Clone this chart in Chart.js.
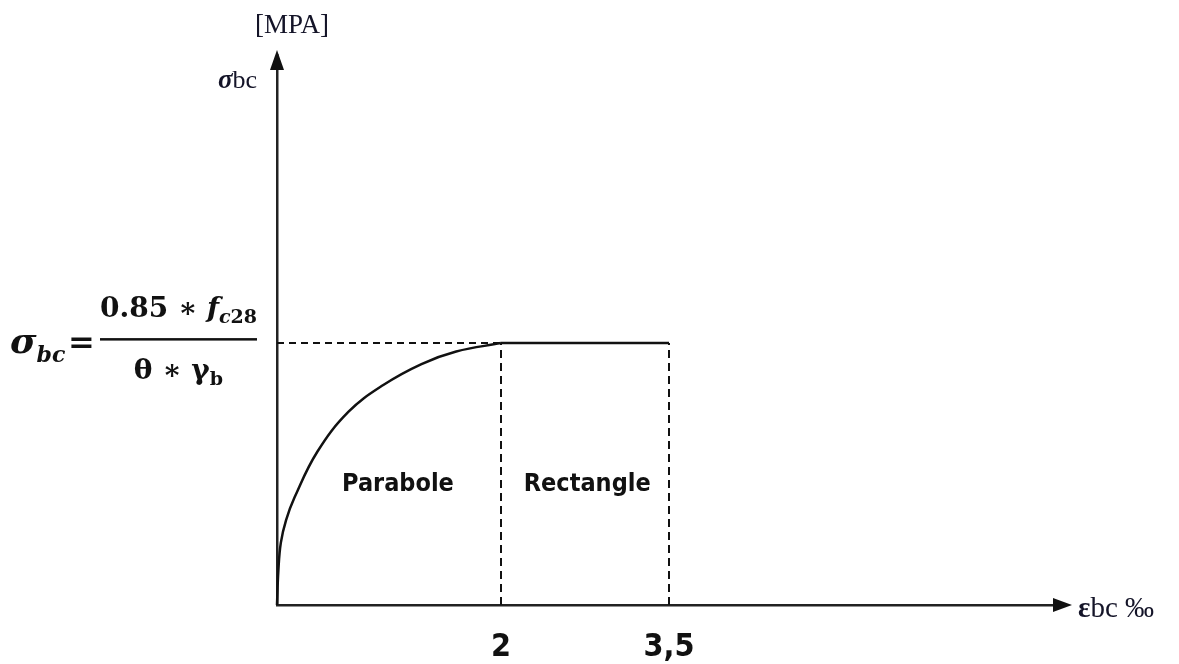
<!DOCTYPE html>
<html>
<head>
<meta charset="utf-8">
<script src="https://cdn.jsdelivr.net/npm/chart.js@4.4.1/dist/chart.umd.min.js"></script>
<style>
  html, body { margin: 0; padding: 0; background: #fff; }
  #wrap { width: 1179px; height: 664px; }
</style>
</head>
<body>
<div id="wrap"><canvas id="graficoBeton" width="1179" height="664"></canvas></div>
<script>
// Diagramme parabole-rectangle du béton (sigma normalisée à 1)
const deformationParabole = [0, 0.012, 0.034, 0.081, 0.158, 0.36, 0.639, 0.949, 1.29, 1.60, 2.0];
const contrainteParabole = [0, 0.13, 0.237, 0.324, 0.412, 0.585, 0.738, 0.840, 0.92, 0.968, 1.0];

const deformationRectangle = [2, 3.5];
const contrainteRectangle = [1, 1];

const tickValeurs = [2, 3.5];
const tickLabels = ['2', '3,5'];

const zoneLabels = ['Parabole', 'Rectangle'];
const zoneCentres = [1.08, 2.77];
const zoneNiveau = 0.46;

const xMax = 7;
const yMax = 2.1;

const couleurTrait = '#111';
const couleurAxe = '#222';
const policeEtroite = '"Liberation Sans Narrow", "DejaVu Sans Condensed", sans-serif';
const policeTimes = '"Liberation Serif", "Times New Roman", serif';
const policeMath = '"DejaVu Serif", serif';

function pointsDe(xs, ys) {
  return xs.map((x, i) => ({ x, y: ys[i] }));
}

// Traits pointillés de repère (sommet de la parabole et fin du rectangle)
const repereHorizontal = pointsDe([0, deformationRectangle[0]], [contrainteRectangle[0], contrainteRectangle[0]]);
const repereVertical1 = pointsDe([deformationRectangle[0], deformationRectangle[0]], [0, contrainteRectangle[0]]);
const repereVertical2 = pointsDe([deformationRectangle[1], deformationRectangle[1]], [0, contrainteRectangle[1]]);

const decorations = {
  id: 'decorations',
  afterDraw(chart) {
    const { ctx, chartArea: ca, scales } = chart;
    const xs = scales.x, ys = scales.y;
    ctx.save();

    // flèches des axes
    ctx.fillStyle = '#111';
    ctx.beginPath();
    ctx.moveTo(ca.left, ca.top - 5);
    ctx.lineTo(ca.left - 7, ca.top + 15);
    ctx.lineTo(ca.left + 7, ca.top + 15);
    ctx.closePath();
    ctx.fill();
    ctx.beginPath();
    ctx.moveTo(ca.right + 11, ca.bottom);
    ctx.lineTo(ca.right - 8, ca.bottom - 7);
    ctx.lineTo(ca.right - 8, ca.bottom + 7);
    ctx.closePath();
    ctx.fill();

    // libellés des axes
    ctx.fillStyle = '#141428';
    ctx.textBaseline = 'alphabetic';
    ctx.textAlign = 'left';
    ctx.font = `27px ${policeTimes}`;
    ctx.fillText('[MPA]', ca.left - 22, 33);
    ctx.font = `bold italic 27px ${policeTimes}`;
    ctx.fillText('σ', ca.left - 59, 88);
    let w = ctx.measureText('σ').width;
    ctx.font = `26px ${policeTimes}`;
    ctx.fillText('bc', ca.left - 59 + w, 88);

    ctx.font = `bold 29px ${policeTimes}`;
    ctx.fillText('ε', ca.right + 17, ca.bottom + 12);
    w = ctx.measureText('ε').width;
    ctx.font = `29px ${policeTimes}`;
    ctx.fillText('bc ‰', ca.right + 17 + w, ca.bottom + 12);

    // zones
    ctx.fillStyle = '#111';
    ctx.textAlign = 'center';
    ctx.textBaseline = 'middle';
    ctx.font = `bold 25px ${policeEtroite}`;
    zoneLabels.forEach((txt, i) => {
      ctx.fillText(txt, xs.getPixelForValue(zoneCentres[i]), ys.getPixelForValue(zoneNiveau));
    });

    // formule sigma_bc = 0.85 fc28 / (theta gamma_b)
    const yf = ys.getPixelForValue(contrainteRectangle[0]);
    ctx.textAlign = 'left';
    ctx.textBaseline = 'alphabetic';
    ctx.fillStyle = '#111';
    const morceaux = (liste, x0, base) => {
      let x = x0;
      liste.forEach(([txt, font, dy]) => {
        ctx.font = font;
        ctx.fillText(txt, x, base + (dy || 0));
        x += ctx.measureText(txt).width;
      });
      return x - x0;
    };
    const largeur = (liste) => liste.reduce((s, [txt, font]) => { ctx.font = font; return s + ctx.measureText(txt).width; }, 0);

    const fGros = `bold 28px ${policeMath}`;
    const fGrosIt = `bold italic 28px ${policeMath}`;
    const fPetit = `bold 19px ${policeMath}`;
    const fPetitIt = `bold italic 19px ${policeMath}`;

    morceaux([['σ', `bold italic 36px ${policeMath}`], ['bc', `bold italic 22px ${policeMath}`, 9]], 10, yf + 10);
    ctx.font = `bold 32px ${policeMath}`;
    ctx.fillText('=', 68, yf + 10);

    const xl = 100, xr = 257, xc = (xl + xr) / 2;
    ctx.fillRect(xl, yf - 5, xr - xl, 2.5);

    const num = [['0.85 ∗ ', fGros], ['f', fGrosIt], ['c', fPetitIt, 6], ['28', fPetit, 6]];
    morceaux(num, xc - largeur(num) / 2, yf - 26);
    const den = [['θ ∗ ', fGros], ['γ', fGros], ['b', fPetit, 6]];
    morceaux(den, xc - largeur(den) / 2, yf + 36);

    ctx.restore();
  }
};

new Chart(document.getElementById('graficoBeton'), {
  type: 'line',
  data: {
    datasets: [
      { data: pointsDe(deformationParabole, contrainteParabole), borderColor: couleurTrait, borderWidth: 2.5, tension: 0.4, pointRadius: 0 },
      { data: pointsDe(deformationRectangle, contrainteRectangle), borderColor: couleurTrait, borderWidth: 2.5, pointRadius: 0 },
      { data: repereHorizontal, borderColor: couleurTrait, borderWidth: 2, borderDash: [7, 5], pointRadius: 0 },
      { data: repereVertical1, borderColor: couleurTrait, borderWidth: 2, borderDash: [8, 5], pointRadius: 0 },
      { data: repereVertical2, borderColor: couleurTrait, borderWidth: 2, borderDash: [8, 5], pointRadius: 0 }
    ]
  },
  options: {
    responsive: false,
    animation: false,
    clip: false,
    layout: { padding: { left: 277, right: 118, top: 55, bottom: 0 } },
    plugins: { legend: { display: false }, tooltip: { enabled: false } },
    scales: {
      x: {
        type: 'linear',
        min: 0,
        max: xMax,
        grid: { display: false, drawTicks: false },
        border: { display: true, color: couleurAxe, width: 2.5 },
        afterBuildTicks: (scale) => { scale.ticks = tickValeurs.map((v) => ({ value: v })); },
        afterFit: (scale) => { scale.height = 59; },
        ticks: {
          padding: 23,
          color: '#111',
          font: { family: policeEtroite, size: 32, weight: 'bold' },
          maxRotation: 0,
          autoSkip: false,
          callback: (v) => tickLabels[tickValeurs.indexOf(v)]
        }
      },
      y: {
        type: 'linear',
        min: 0,
        max: yMax,
        grid: { display: false, drawTicks: false },
        border: { display: true, color: couleurAxe, width: 2.5 },
        ticks: { display: false },
        afterFit: (scale) => { scale.width = 0; }
      }
    }
  },
  plugins: [decorations]
});
</script>
</body>
</html>
